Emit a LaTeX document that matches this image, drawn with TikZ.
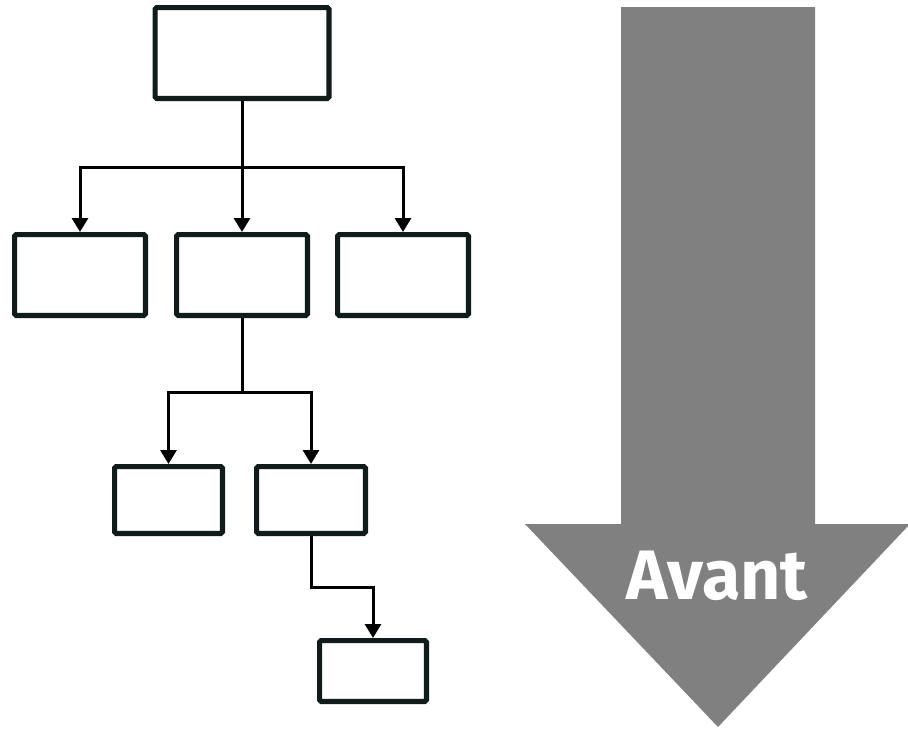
\documentclass[tikz,border=0pt]{standalone}
\usepackage{fontspec}
\setmainfont{Fira Sans}
\usetikzlibrary{arrows.meta}
\definecolor{boxline}{HTML}{101C1C}
\definecolor{arrowgray}{HTML}{808080}
\tikzset{
  orgbox/.style={draw=boxline, line width=5.2pt, rounded corners=1.5pt, fill=white, inner sep=0pt},
  link/.style={line width=3pt, draw=black},
  linkarrow/.style={link, -{Triangle[length=14pt,width=16pt]}}
}
\begin{document}
\begin{tikzpicture}[x=1pt,y=-1pt]
\useasboundingbox (0,0) rectangle (908,729);
% big arrow
\fill[arrowgray] (621,7) -- (815,7) -- (815,524) -- (910,524) -- (718,727) -- (525,524) -- (621,524) -- cycle;
\node[anchor=base, text=white, font=\bfseries\fontsize{70}{76}\selectfont, inner sep=0pt] (avant) at (717,599) {Avant};
% boxes
\node[orgbox, minimum width=173.8pt, minimum height=90.8pt] (top) at (242,53) {};
\node[orgbox, minimum width=130.8pt, minimum height=80.8pt] (b1) at (80,275) {};
\node[orgbox, minimum width=130.8pt, minimum height=80.8pt] (b2) at (242,275) {};
\node[orgbox, minimum width=130.8pt, minimum height=80.8pt] (b3) at (403,275) {};
\node[orgbox, minimum width=107.8pt, minimum height=66.8pt] (b4) at (168.5,500) {};
\node[orgbox, minimum width=108.8pt, minimum height=66.8pt] (b5) at (311,500) {};
\node[orgbox, minimum width=106.8pt, minimum height=60.8pt] (b6) at (373,671) {};
% connectors
\coordinate (j1) at (242,167);
\coordinate (j2) at (242,392);
\coordinate (j3) at (311,587);
\draw[link] (top.south) -- (j1);
\draw[linkarrow] (j1) -| (b1.north);
\draw[linkarrow] (j1) -- (b2.north);
\draw[linkarrow] (j1) -| (b3.north);
\draw[link] (b2.south) -- (j2);
\draw[linkarrow] (j2) -| (b4.north);
\draw[linkarrow] (j2) -| (b5.north);
\draw[linkarrow] (b5.south) -- (j3) -| (b6.north);
\end{tikzpicture}
\end{document}
